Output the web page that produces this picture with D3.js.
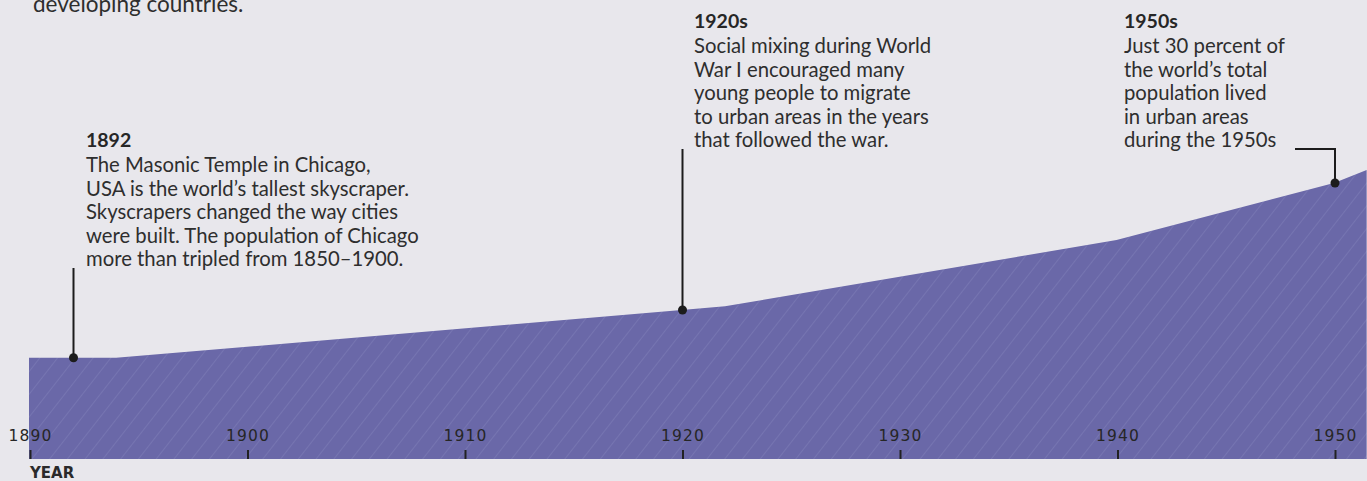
<!DOCTYPE html>
<html><head><meta charset="utf-8">
<script src="https://cdn.jsdelivr.net/npm/d3@7"></script>
<style>
html,body{margin:0;padding:0;background:#e8e7ec;}
svg{display:block;}
</style></head>
<body>
<svg id="c" width="1367" height="481"></svg>
<script>
// Data
const years = [1890, 1894, 1920, 1922, 1940, 1950, 1951.5];
const urbanShare = [11.0, 11.0, 16.2, 16.6, 23.8, 30.0, 31.4];
const tickYears = [1890, 1900, 1910, 1920, 1930, 1940, 1950];
const introText = ["developing countries."];
const notes = [
  {year: 1892, title: "1892", lines: ["The Masonic Temple in Chicago,", "USA is the world\u2019s tallest skyscraper.", "Skyscrapers changed the way cities", "were built. The population of Chicago", "more than tripled from 1850\u20131900."]},
  {year: 1920, title: "1920s", lines: ["Social mixing during World", "War I encouraged many", "young people to migrate", "to urban areas in the years", "that followed the war."]},
  {year: 1950, title: "1950s", lines: ["Just 30 percent of", "the world\u2019s total", "population lived", "in urban areas", "during the 1950s"]}
];

const svg = d3.select("#c");
const x = d3.scaleLinear().domain([1890, 1950]).range([30, 1335]);
const y = d3.scaleLinear().domain([0, 30]).range([459, 183]);
const data = years.map((yr, i) => ({yr, v: urbanShare[i]}));
const interp = d3.scaleLinear().domain(years).range(urbanShare);

// pattern
const defs = svg.append("defs");
const pat = defs.append("pattern").attr("id", "hatch").attr("patternUnits", "userSpaceOnUse")
  .attr("width", 14).attr("height", 14).attr("patternTransform", "rotate(38)");
pat.append("rect").attr("width", 14).attr("height", 14).attr("fill", "#6a68a8");
pat.append("line").attr("x1", 0).attr("y1", 0).attr("x2", 0).attr("y2", 14)
  .attr("stroke", "#8482bb").attr("stroke-width", 1.2).attr("stroke-opacity", 0.75);

const area = d3.area().x(d => x(d.yr)).y0(y(0)).y1(d => y(d.v));
svg.append("path").datum(data).attr("d", area).attr("fill", "url(#hatch)").attr("transform", "translate(-1,0)");

// axis
const axis = d3.axisBottom(x).tickValues(tickYears).tickFormat(d3.format("d")).tickSize(0);
const ag = svg.append("g").attr("transform", `translate(0,${y(0)})`);
ag.call(axis);
ag.select(".domain").remove();
ag.selectAll(".tick").append("line").attr("y1", -9).attr("y2", 0).attr("stroke", "#222").attr("stroke-width", 2);
ag.selectAll(".tick text").attr("y", -18).attr("dy", 0)
  .attr("font-family", "DejaVu Sans").attr("font-size", 15.5).attr("letter-spacing", "1.2px")
  .attr("fill", "#262626").attr("text-anchor", "middle");

svg.append("text").attr("x", 30).attr("y", 478).text("YEAR")
  .attr("font-family", "DejaVu Sans").attr("font-weight", "bold").attr("font-size", 15).attr("fill", "#2a2a2a");

// intro
svg.append("text").attr("x", 33).attr("y", 12).text(introText[0])
  .attr("font-family", "Lato").attr("font-size", 22.5).attr("fill", "#2e2e2e");

// annotations
const font = "Lato";
function block(n, tx, ty) {
  const g = svg.append("g");
  g.append("text").attr("x", tx).attr("y", ty).text(n.title)
    .attr("font-family", font).attr("font-weight", "bold").attr("font-size", 19.5).attr("fill", "#262626");
  n.lines.forEach((l, i) => {
    g.append("text").attr("x", tx).attr("y", ty + 25 + i * 23.6).text(l)
      .attr("font-family", font).attr("font-size", 20.3).attr("fill", "#2e2e2e");
  });
}
block(notes[0], 86, 147);
block(notes[1], 694, 28);
block(notes[2], 1124, 28);

const lineCol = "#1c1c1c";
function marker(yr, topY) {
  const px = x(yr), py = y(interp(yr));
  svg.append("line").attr("x1", px).attr("x2", px).attr("y1", topY).attr("y2", py)
    .attr("stroke", lineCol).attr("stroke-width", 2);
  svg.append("circle").attr("cx", px).attr("cy", py).attr("r", 4.5).attr("fill", lineCol);
}
marker(1892, 268);
marker(1920, 149);
marker(1950, 149);
svg.append("line").attr("x1", 1295).attr("x2", x(1950) + 1).attr("y1", 149).attr("y2", 149)
  .attr("stroke", lineCol).attr("stroke-width", 2);
</script>
</body></html>
